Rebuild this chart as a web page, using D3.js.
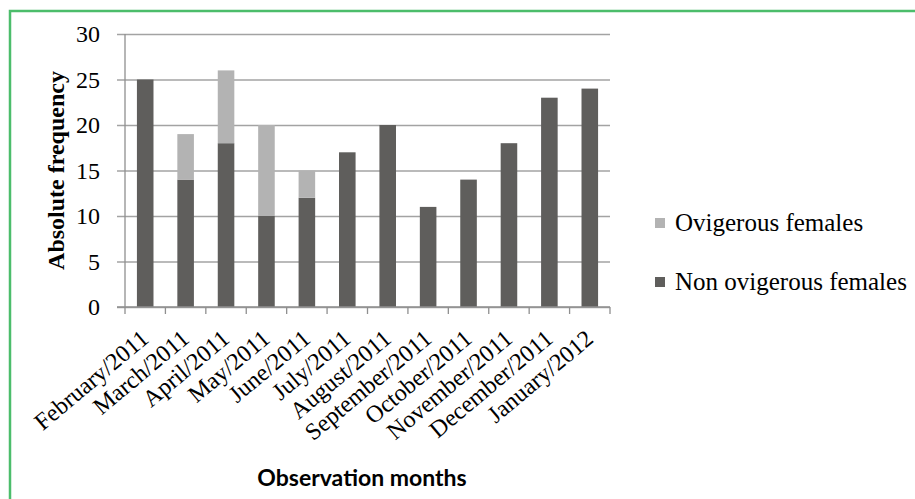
<!DOCTYPE html>
<html>
<head>
<meta charset="utf-8">
<script src="https://cdn.jsdelivr.net/npm/d3@7"></script>
<style>
  body { margin: 0; background: #fff; }
  svg { display: block; }
</style>
</head>
<body>
<script>
// Stacked bars: ovigerous vs non ovigerous females per month

var months = ["February/2011", "March/2011", "April/2011", "May/2011", "June/2011", "July/2011",
              "August/2011", "September/2011", "October/2011", "November/2011", "December/2011", "January/2012"];
var nonOvigerous = [25, 14, 18, 10, 12, 17, 20, 11, 14, 18, 23, 24];
var ovigerous = [0, 5, 8, 10, 3, 0, 0, 0, 0, 0, 0, 0];
var yTicks = [0, 5, 10, 15, 20, 25, 30];
var seriesNames = ["Ovigerous females", "Non ovigerous females"];

var svgwidth = 915;
var svgheight = 499;

var plot = { left: 125, right: 610, top: 34, bottom: 307 };

var serif = "Liberation Serif, Times New Roman, serif";
var dark = "#5f5e5c";
var light = "#b3b3b3";

var svg = d3.select("body")
            .append("svg")
            .attr("width", svgwidth)
            .attr("height", svgheight);

// green frame (only left and top edges visible)
svg.append("rect")
    .attr("x", 10)
    .attr("y", 11)
    .attr("width", 1000)
    .attr("height", 1000)
    .attr("fill", "none")
    .attr("stroke", "#4cbd6b")
    .attr("stroke-width", 2.5);

// table for the stack
var table = months.map(function(m, i) {
    return { month: m, non: nonOvigerous[i], ovi: ovigerous[i] };
});
var stacked = d3.stack().keys(["non", "ovi"])(table);

//Scales
var x = d3.scaleBand()
        .domain(months)
        .range([plot.left, plot.right])
        .paddingInner(0.59)
        .paddingOuter(0.295);

var y = d3.scaleLinear()
        .domain([0, 30])
        .range([plot.bottom, plot.top]);

//Gridlines + left axis
var leftAxis = d3.axisLeft(y)
        .tickValues(yTicks)
        .tickSize(plot.right - plot.left + 8)
        .tickPadding(17)
        .tickFormat(d3.format("d"));

var yAxisG = svg.append("g")
        .attr("transform", `translate(${plot.right}, 0)`)
        .call(leftAxis);

yAxisG.select(".domain").remove();
yAxisG.selectAll(".tick line")
        .attr("stroke", "#a3a3a3")
        .attr("stroke-width", 1.3);
yAxisG.selectAll(".tick text")
        .attr("font-family", serif)
        .attr("font-size", "24px")
        .attr("fill", "#000")
        .attr("dy", "0.33em");

// vertical axis line
svg.append("line")
    .attr("x1", plot.left).attr("x2", plot.left)
    .attr("y1", y(30)).attr("y2", y(0))
    .attr("stroke", "#8f8f8f")
    .attr("stroke-width", 1.3);

//Bars
var colors = { non: dark, ovi: light };

svg.append("g")
    .selectAll("g")
    .data(stacked)
    .enter()
    .append("g")
    .attr("fill", d => colors[d.key])
    .selectAll("rect")
    .data(d => d.filter(v => v[1] > v[0]))
    .enter()
    .append("rect")
    .attr("x", d => x(d.data.month))
    .attr("width", x.bandwidth())
    .attr("y", d => y(d[1]))
    .attr("height", d => y(d[0]) - y(d[1]));

//Bottom axis line with ticks at category boundaries
svg.append("line")
    .attr("x1", plot.left - 8).attr("x2", plot.right)
    .attr("y1", y(0)).attr("y2", y(0))
    .attr("stroke", "#8f8f8f")
    .attr("stroke-width", 1.3);

var boundaries = months.map(m => x(m) - x.step() * x.paddingInner() / 2);
boundaries.push(plot.right);

svg.append("g")
    .selectAll("line")
    .data(boundaries)
    .enter()
    .append("line")
    .attr("x1", d => d).attr("x2", d => d)
    .attr("y1", y(0)).attr("y2", y(0) + 7)
    .attr("stroke", "#8f8f8f")
    .attr("stroke-width", 1.3);

//Month labels, rotated
svg.append("g")
    .selectAll("text")
    .data(months)
    .enter()
    .append("text")
    .attr("transform", d => `translate(${x(d) + x.bandwidth() / 2 + 5}, ${y(0) + 34}) rotate(-40)`)
    .attr("text-anchor", "end")
    .attr("font-family", serif)
    .attr("font-size", "24px")
    .attr("fill", "#000")
    .text(d => d);

//Axis titles
svg.append("text")
    .attr("transform", `translate(64, ${(plot.top + plot.bottom) / 2}) rotate(-90)`)
    .attr("text-anchor", "middle")
    .attr("font-family", serif)
    .attr("font-weight", "bold")
    .attr("font-size", "24px")
    .attr("fill", "#000")
    .text("Absolute frequency");

svg.append("text")
    .attr("x", 362)
    .attr("y", 486)
    .attr("text-anchor", "middle")
    .attr("font-family", "Lato, sans-serif")
    .attr("font-weight", "bold")
    .attr("font-size", "23px")
    .attr("fill", "#000")
    .text("Observation months");

//Legend
var legend = svg.append("g")
    .selectAll("g")
    .data(seriesNames)
    .enter()
    .append("g")
    .attr("transform", (d, i) => `translate(655, ${223 + i * 59})`);

legend.append("rect")
    .attr("x", 0)
    .attr("y", -5)
    .attr("width", 10)
    .attr("height", 10)
    .attr("fill", (d, i) => i === 0 ? light : dark);

legend.append("text")
    .attr("x", 20)
    .attr("dy", "0.33em")
    .attr("font-family", serif)
    .attr("font-size", "25px")
    .attr("fill", "#000")
    .text(d => d);
</script>
</body>
</html>
